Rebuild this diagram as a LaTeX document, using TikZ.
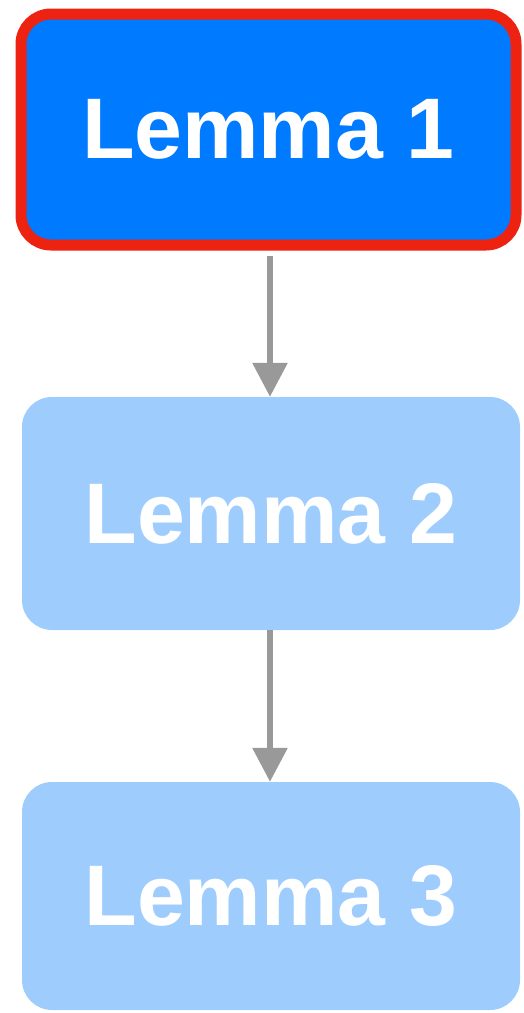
\documentclass[tikz,border=0pt]{standalone}
\usepackage{fontspec}
\setmainfont{Liberation Sans}
\usetikzlibrary{arrows.meta}
\definecolor{darkblue}{RGB}{0,122,255}
\definecolor{lightblue}{RGB}{158,205,253}
\definecolor{redborder}{RGB}{238,34,17}
\definecolor{arrowgray}{RGB}{153,153,153}
\tikzset{
  lemma/.style={rectangle, rounded corners=30pt, inner sep=0pt, text=white,
    font=\fontsize{86}{90}\selectfont\bfseries},
  current/.style={lemma, fill=darkblue, draw=redborder, line width=11pt},
  other/.style={lemma, fill=lightblue},
  conn/.style={draw=arrowgray, line width=6pt, -{Triangle[width=34pt,length=34pt]}}
}
\begin{document}
\begin{tikzpicture}[x=1pt,y=-1pt]
\useasboundingbox (0,0) rectangle (523,1013);
\node[current, minimum width=495pt, minimum height=231pt] (n1) at (268.5,129.5) {Lemma 1};
\node[other, minimum width=498pt, minimum height=233pt] (n2) at (271,513.5) {Lemma 2};
\node[other, minimum width=498pt, minimum height=228pt] (n3) at (271,896) {Lemma 3};
\draw[conn, shorten <=5pt] (n1.south -| 270,0) -- (n2.north -| 270,0);
\draw[conn] (n2.south -| 270,0) -- (n3.north -| 270,0);
\end{tikzpicture}
\end{document}
